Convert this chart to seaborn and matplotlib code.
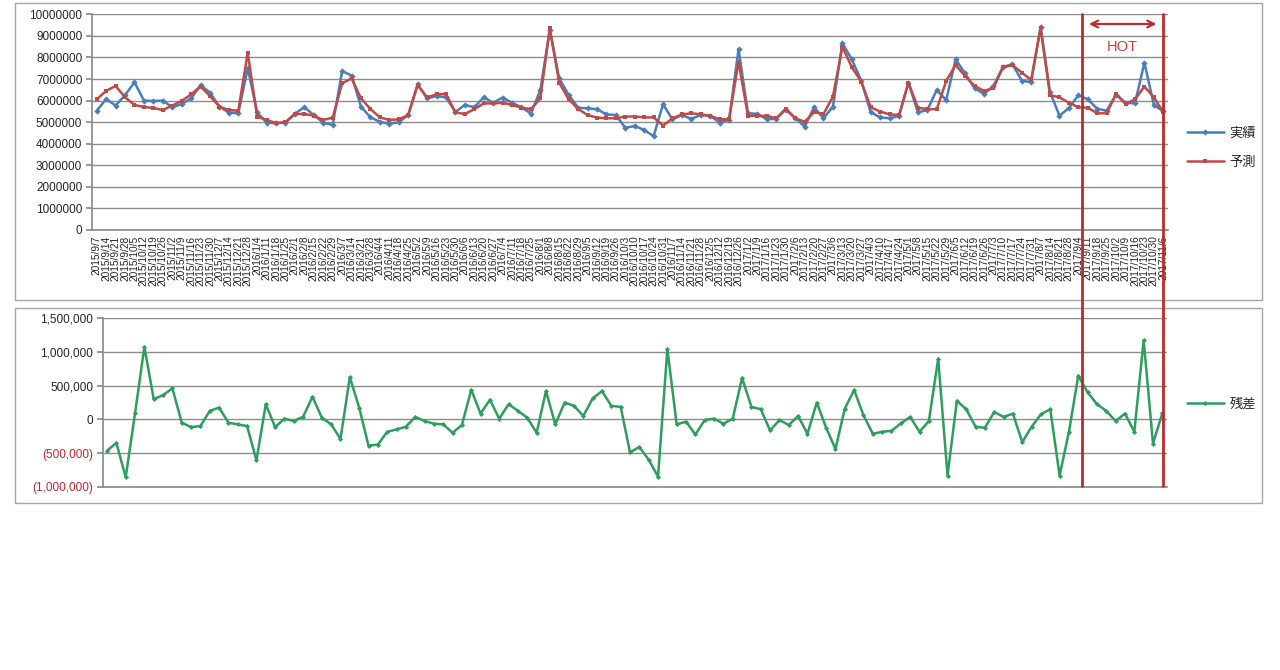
import pandas as pd
import numpy as np
import matplotlib
matplotlib.use("Agg")
import matplotlib.pyplot as plt
import seaborn as sns
from matplotlib.patches import Rectangle, FancyArrowPatch
from matplotlib.lines import Line2D
from matplotlib.ticker import FuncFormatter

# =========================
# DATA
# =========================

week_start = "2015-09-07"
n_weeks = 114
week_labels = [f"{d.year}/{d.month}/{d.day}"
               for d in pd.date_range(week_start, periods=n_weeks, freq="7D")]

# 実績 (actual), millions
actual_m = [
    5.53, 6.07, 5.77, 6.25, 6.85, 6.00, 5.98, 6.00, 5.69, 5.84,
    6.10, 6.72, 6.37, 5.72, 5.44, 5.41, 7.50, 5.45, 4.98, 4.95,
    4.98, 5.40, 5.69, 5.33, 4.98, 4.87, 7.37, 7.16, 5.72, 5.22,
    5.02, 4.92, 5.00, 5.33, 6.75, 6.10, 6.21, 6.15, 5.47, 5.80,
    5.69, 6.15, 5.90, 6.14, 5.90, 5.69, 5.40, 6.49, 9.27, 7.03,
    6.26, 5.67, 5.64, 5.60, 5.36, 5.33, 4.74, 4.82, 4.64, 4.35,
    5.83, 5.13, 5.33, 5.15, 5.33, 5.30, 4.98, 5.12, 8.38, 5.42,
    5.38, 5.13, 5.16, 5.58, 5.20, 4.79, 5.69, 5.18, 5.72, 8.66,
    7.91, 6.92, 5.46, 5.22, 5.18, 5.28, 6.83, 5.46, 5.56, 6.49,
    6.02, 7.91, 7.26, 6.57, 6.31, 6.68, 7.54, 7.70, 6.93, 6.85,
    9.42, 6.40, 5.30, 5.65, 6.25, 6.06, 5.62, 5.53, 6.28, 5.90,
    5.87, 7.76, 5.80, 5.50,
]

# 予測 (forecast), millions
forecast_m = [
    6.06, 6.45, 6.68, 6.15, 5.80, 5.70, 5.66, 5.56, 5.77, 5.98,
    6.29, 6.65, 6.21, 5.72, 5.56, 5.53, 8.22, 5.26, 5.10, 4.95,
    5.00, 5.38, 5.38, 5.30, 5.10, 5.21, 6.80, 7.03, 6.10, 5.61,
    5.22, 5.10, 5.13, 5.33, 6.72, 6.15, 6.29, 6.31, 5.45, 5.38,
    5.60, 5.87, 5.87, 5.90, 5.80, 5.67, 5.60, 6.10, 9.35, 6.83,
    6.06, 5.61, 5.33, 5.21, 5.18, 5.18, 5.26, 5.26, 5.22, 5.22,
    4.84, 5.18, 5.36, 5.41, 5.36, 5.29, 5.13, 5.13, 7.81, 5.29,
    5.30, 5.29, 5.18, 5.62, 5.18, 5.02, 5.46, 5.38, 6.18, 8.50,
    7.54, 6.88, 5.69, 5.49, 5.36, 5.33, 6.83, 5.67, 5.60, 5.60,
    6.91, 7.65, 7.14, 6.68, 6.45, 6.57, 7.54, 7.65, 7.30, 6.96,
    9.35, 6.25, 6.15, 5.90, 5.69, 5.67, 5.41, 5.41, 6.31, 5.84,
    6.06, 6.65, 6.15, 5.46,
]

# 残差 (residual), thousands
residual_k = [
    -465, -350, -860, 90, 1075, 300, 360, 460, -50, -115,
    -100, 125, 175, -50, -75, -100, -610, 225, -115, 10,
    -25, 40, 335, 25, -75, -290, 625, 175, -390, -375,
    -185, -150, -110, 35, -25, -65, -75, -200, -85, 440,
    85, 290, 10, 225, 125, 25, -200, 420, -75, 250,
    200, 50, 310, 420, 200, 185, -490, -410, -600, -850,
    1040, -75, -35, -225, -10, 10, -65, 10, 615, 185,
    150, -165, -10, -85, 50, -215, 250, -125, -440, 160,
    435, 60, -215, -185, -170, -60, 35, -185, -25, 900,
    -835, 275, 150, -110, -125, 110, 35, 85, -340, -110,
    75, 150, -835, -185, 650, 400, 225, 125, -25, 85,
    -185, 1175, -360, 90,
]

series_names = ["実績", "予測"]
residual_name = "残差"
hot_label = "HOT"
hot_start = 104.4   # category position where the HOT band starts

# =========================
# STYLE
# =========================

sns.set_theme(style="white")
plt.rcParams["font.family"] = ["Liberation Sans", "Noto Sans CJK JP", "DejaVu Sans"]

BLUE = "#4A7EBB"
RED = "#BE4B48"
GREEN = "#2E9E5E"
HOT_RED = "#C0282D"
GRID = "#8C8C8C"
TXT = "#262626"

W, H = 1280, 670


def px_rect(l, t, r, b):
    return [l / W, 1 - b / H, (r - l) / W, (b - t) / H]


fig = plt.figure(figsize=(W / 100, H / 100), dpi=100)
fig.patch.set_facecolor("white")

# chart area frames
for (l, t, r, b) in [(15, 3, 1262, 300), (15, 308, 1262, 503)]:
    fig.add_artist(Rectangle((l / W, 1 - b / H), (r - l) / W, (b - t) / H,
                             transform=fig.transFigure, fill=False,
                             ec="#A6A6A6", lw=1.0))

# =========================
# TOP: ACTUAL VS FORECAST
# =========================

ax1 = fig.add_axes(px_rect(92, 14.3, 1168, 230))

df_top = pd.DataFrame({
    "week": list(range(n_weeks)) * 2,
    "value": [v * 1e6 for v in actual_m] + [v * 1e6 for v in forecast_m],
    "series": [series_names[0]] * n_weeks + [series_names[1]] * n_weeks,
})

sns.lineplot(data=df_top, x="week", y="value", hue="series", style="series",
             hue_order=series_names, style_order=series_names,
             palette=[BLUE, RED], markers={series_names[0]: "D", series_names[1]: "s"},
             dashes=False, lw=1.8, markersize=3.2, markeredgewidth=0,
             ax=ax1)

ax1.set_xlim(-0.2, n_weeks - 0.8)
ax1.set_ylim(0, 10_000_000)
ax1.set_yticks(np.arange(0, 10_000_001, 1_000_000))
ax1.yaxis.set_major_formatter(FuncFormatter(lambda v, p: f"{v:.0f}"))
ax1.set_xticks(range(n_weeks))
ax1.set_xticklabels(week_labels, rotation=90, fontsize=7.3, color=TXT)
ax1.set_xticks(np.arange(-0.5, n_weeks, 1), minor=True)
ax1.tick_params(axis="x", which="major", length=0, pad=4)
ax1.tick_params(axis="x", which="minor", length=4, direction="inout",
                color=GRID, width=0.8)
ax1.tick_params(axis="y", length=4, direction="out", color=GRID,
                labelsize=8.5, labelcolor=TXT, pad=3, left=True)
ax1.yaxis.grid(True, color=GRID, lw=1.0)
ax1.xaxis.grid(False)
for s in ["top", "right"]:
    ax1.spines[s].set_visible(False)
for s in ["left", "bottom"]:
    ax1.spines[s].set_color(GRID)
ax1.set_xlabel("")
ax1.set_ylabel("")

h1, l1 = ax1.get_legend_handles_labels()
ax1.legend(h1, l1, loc="center left", bbox_to_anchor=(1187 / W, 1 - 148 / H),
           bbox_transform=fig.transFigure, frameon=False, fontsize=9.5,
           handlelength=2.8, labelspacing=1.3, handletextpad=0.4,
           borderpad=0, borderaxespad=0)

# =========================
# BOTTOM: RESIDUAL
# =========================

ax2 = fig.add_axes(px_rect(103, 318.3, 1167, 486.7))

df_res = pd.DataFrame({
    "week": range(n_weeks),
    "residual": [v * 1000 for v in residual_k],
})

sns.lineplot(data=df_res, x="week", y="residual", color=GREEN, lw=1.8,
             marker="D", markersize=2.6, markeredgewidth=0,
             label=residual_name, ax=ax2)

ax2.set_xlim(-0.43, n_weeks - 0.5)
ax2.set_ylim(-1_000_000, 1_500_000)
res_ticks = np.arange(-1_000_000, 1_500_001, 500_000)
ax2.set_yticks(res_ticks)
ax2.set_yticklabels([f"{v:,.0f}" if v >= 0 else f"({-v:,.0f})" for v in res_ticks])
for t, v in zip(ax2.get_yticklabels(), res_ticks):
    t.set_color("#C0282D" if v < 0 else TXT)
ax2.set_xticks([])
ax2.tick_params(axis="y", length=4, direction="out", color=GRID,
                labelsize=8.5, pad=3, left=True)
ax2.yaxis.grid(True, color=GRID, lw=1.0)
for s in ["top", "right"]:
    ax2.spines[s].set_visible(False)
for s in ["left", "bottom"]:
    ax2.spines[s].set_color(GRID)
ax2.set_xlabel("")
ax2.set_ylabel("")

h2, l2 = ax2.get_legend_handles_labels()
ax2.legend(h2, l2, loc="center left", bbox_to_anchor=(1187 / W, 1 - 404 / H),
           bbox_transform=fig.transFigure, frameon=False, fontsize=9.5,
           handlelength=2.8, handletextpad=0.4, borderpad=0, borderaxespad=0)

# =========================
# HOT PERIOD MARKERS
# =========================

x_hot0 = ax1.transData.transform((hot_start, 0))[0] / W
x_hot1 = ax1.transData.transform((n_weeks - 1, 0))[0] / W
for x in [x_hot0, x_hot1]:
    fig.add_artist(Line2D([x, x], [1 - 14 / H, 1 - 486 / H],
                          transform=fig.transFigure, color=HOT_RED, lw=2.0))

fig.add_artist(FancyArrowPatch((x_hot0 + 4 / W, 1 - 24 / H), (x_hot1 - 4 / W, 1 - 24 / H),
                               transform=fig.transFigure, arrowstyle="<->",
                               mutation_scale=12, color=HOT_RED, lw=1.6))
fig.text((x_hot0 + x_hot1) / 2, 1 - 47 / H, hot_label, color="#D04040",
         fontsize=10.5, ha="center", va="center")

plt.savefig("out.png", dpi=100)
plt.close()
